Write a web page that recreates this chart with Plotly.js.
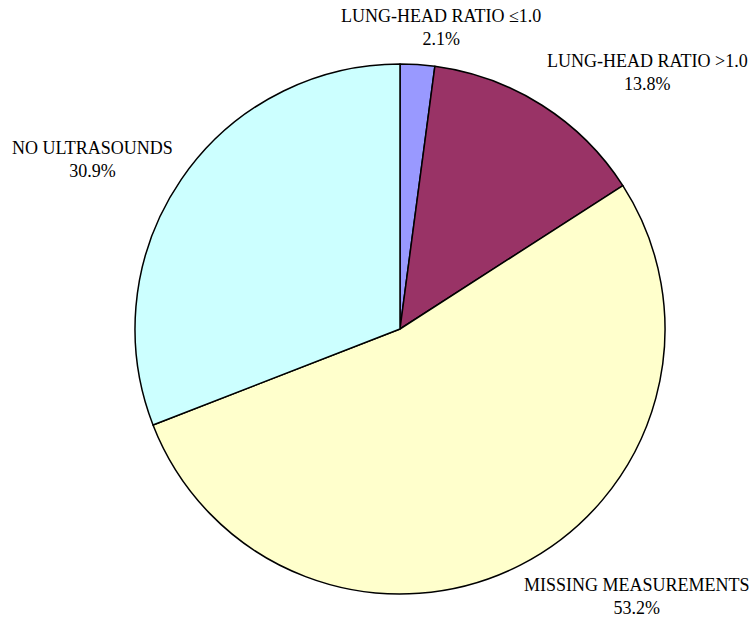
<!DOCTYPE html>
<html><head><meta charset="utf-8">
<script src="https://cdn.plot.ly/plotly-3.0.1.min.js"></script>
<style>html,body{margin:0;padding:0;background:#fff;}</style>
</head><body>
<div id="chart" style="width:753px;height:617px;"></div>
<script>
const categories = ["LUNG-HEAD RATIO ≤1.0", "LUNG-HEAD RATIO >1.0", "MISSING MEASUREMENTS", "NO ULTRASOUNDS"];
const values = [2.1, 13.8, 53.2, 30.9];
const percentLabels = ["2.1%", "13.8%", "53.2%", "30.9%"];
const colors = ["#9999FF", "#993366", "#FFFFCC", "#CCFFFF"];
const labelPos = [[441, 28], [647, 72], [637, 596], [92, 159]];

const W = 753, H = 617;
const annotations = categories.map((c, i) => ({
  x: labelPos[i][0] / W, y: 1 - labelPos[i][1] / H,
  xref: 'paper', yref: 'paper', xanchor: 'center', yanchor: 'middle',
  text: c + '<br>' + percentLabels[i], showarrow: false,
  font: {family: 'Times New Roman, Liberation Serif, DejaVu Serif, serif', size: 18, color: '#000'}
}));

const cx = 400, cy = 329, r = 265;
Plotly.newPlot('chart', [{
  type: 'pie', values: values, labels: categories,
  sort: false, direction: 'clockwise', rotation: 0,
  marker: {colors: colors, line: {color: '#000', width: 1.5}},
  textinfo: 'none', hoverinfo: 'label+percent',
  domain: {x: [(cx - r) / W, (cx + r) / W], y: [1 - (cy + r) / H, 1 - (cy - r) / H]}
}], {
  width: W, height: H, margin: {l: 0, r: 0, t: 0, b: 0},
  showlegend: false, paper_bgcolor: '#fff',
  annotations: annotations
}, {displayModeBar: false, staticPlot: true});
</script>
</body></html>
